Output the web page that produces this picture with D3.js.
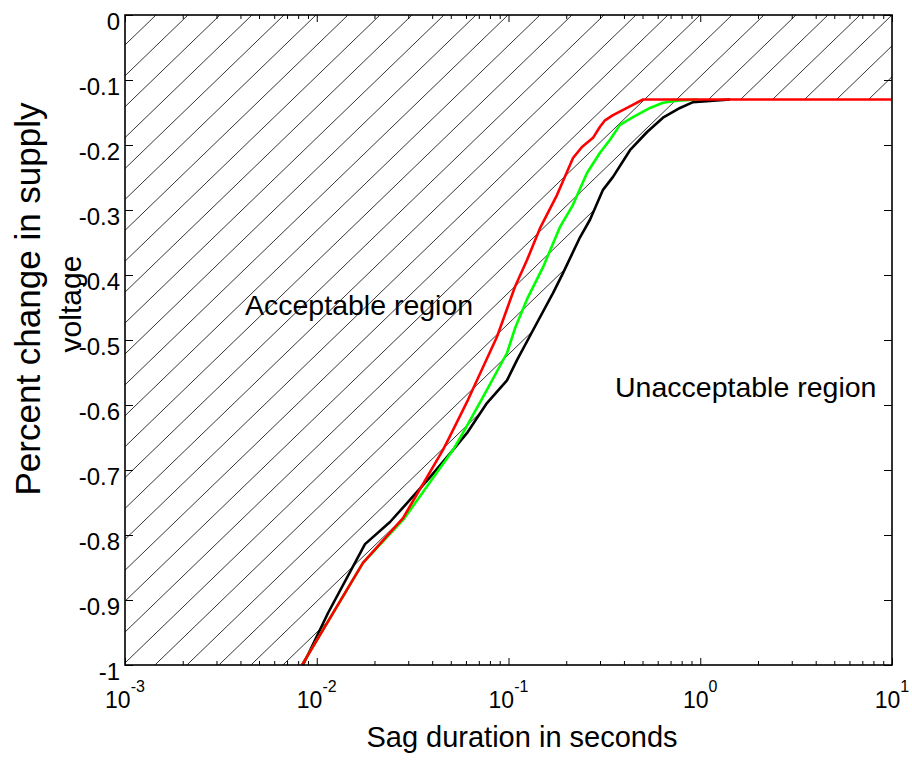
<!DOCTYPE html>
<html>
<head>
<meta charset="utf-8">
<script src="https://cdn.jsdelivr.net/npm/d3@7"></script>
<style>
  body { margin: 0; background: #fff; }
  text { font-family: Arial, "Liberation Sans", sans-serif; fill: #000; }
</style>
</head>
<body>
<svg id="chart" width="912" height="762"></svg>
<script>
// Sag duration (s) and voltage change for the three curves
const blackDur  = [0.00848, 0.01145, 0.01785, 0.0241, 0.0306, 0.0390, 0.0514, 0.0608, 0.0772, 0.0982, 0.1107, 0.1342, 0.1706, 0.1924, 0.2360, 0.266, 0.311, 0.3508, 0.430, 0.528, 0.639, 0.784, 0.917, 1.43];
const blackVolt = [-1.0, -0.920, -0.814, -0.780, -0.746, -0.711, -0.669, -0.643, -0.597, -0.562, -0.531, -0.485, -0.428, -0.397, -0.342, -0.315, -0.269, -0.249, -0.208, -0.180, -0.158, -0.143, -0.134, -0.13];

const greenDur  = [0.00838, 0.01742, 0.0285, 0.0514, 0.0579, 0.0736, 0.0982, 0.1081, 0.1264, 0.1514, 0.1856, 0.2170, 0.2566, 0.300, 0.3382, 0.3815, 0.4459, 0.547, 0.639, 0.756, 0.962];
const greenVolt = [-1.0, -0.843, -0.775, -0.669, -0.643, -0.588, -0.520, -0.482, -0.434, -0.388, -0.326, -0.292, -0.243, -0.212, -0.192, -0.169, -0.157, -0.143, -0.135, -0.132, -0.13];

const redDur  = [0.00838, 0.01742, 0.02818, 0.04553, 0.04835, 0.0615, 0.0871, 0.1081, 0.1249, 0.1460, 0.1790, 0.2170, 0.2416, 0.2759, 0.300, 0.3187, 0.3508, 0.415, 0.503, 10];
const redVolt = [-1.0, -0.843, -0.774, -0.669, -0.654, -0.592, -0.495, -0.418, -0.377, -0.328, -0.277, -0.220, -0.203, -0.189, -0.172, -0.162, -0.154, -0.143, -0.13, -0.13];

// Axis ticks
const xTickValues = [1e-3, 1e-2, 1e-1, 1, 10];
const xTickExponents = ["-3", "-2", "-1", "0", "1"];
const yTickValues = [0, -0.1, -0.2, -0.3, -0.4, -0.5, -0.6, -0.7, -0.8, -0.9, -1];
const yTickLabels = ["0", "-0.1", "-0.2", "-0.3", "-0.4", "-0.5", "-0.6", "-0.7", "-0.8", "-0.9", "-1"];

const series = [
    { dur: blackDur, volt: blackVolt, colour: "#000000" },
    { dur: greenDur, volt: greenVolt, colour: "#00ff00" },
    { dur: redDur, volt: redVolt, colour: "#ff0000" }
];

const svg = d3.select("#chart");
const plotLeft = 125, plotRight = 892, plotTop = 15, plotBottom = 665;

const x = d3.scaleLog().domain([1e-3, 10]).range([plotLeft, plotRight]);
const y = d3.scaleLinear().domain([-1, 0]).range([plotBottom, plotTop]);

// minor ticks 2..9 in each decade
var minorTicks = [];
xTickValues.slice(0, -1).forEach(function(d) {
    for (var k = 2; k <= 9; k++) minorTicks.push(d * k);
});

const line = d3.line()
    .x(function(d) { return x(d[0]); })
    .y(function(d) { return y(d[1]); });

// clip region for the hatching: the area above/left of each curve
var clip = svg.append("defs").append("clipPath").attr("id", "hatch-clip");
series.forEach(function(s) {
    var pts = [[1e-3, -1]];
    s.dur.forEach(function(d, i) { pts.push([d, s.volt[i]]); });
    pts.push([s.dur[s.dur.length - 1], 0]);
    pts.push([1e-3, 0]);
    clip.append("path").attr("d", line(pts) + "Z");
});

// hatch lines
var angle = 44 * Math.PI / 180;
var gap = 32;
var hatch = svg.append("g").attr("clip-path", "url(#hatch-clip)");
d3.range(-30, 45).forEach(function(k) {
    var cx = 156 + k * gap, L = 1400;
    hatch.append("line")
        .attr("x1", cx - L * Math.cos(angle))
        .attr("y1", plotTop + L * Math.sin(angle))
        .attr("x2", cx + L * Math.cos(angle))
        .attr("y2", plotTop - L * Math.sin(angle))
        .attr("stroke", "#000")
        .attr("stroke-width", 0.8);
});

// curves
series.forEach(function(s) {
    var pts = s.dur.map(function(d, i) { return [d, s.volt[i]]; });
    svg.append("path")
        .attr("d", line(pts))
        .attr("fill", "none")
        .attr("stroke", s.colour)
        .attr("stroke-width", 2.6)
        .attr("stroke-linejoin", "round");
});

// axes (ticks pointing inward)
function clean(g) {
    g.select(".domain").remove();
    g.selectAll(".tick line").attr("stroke", "#000").attr("stroke-width", 1);
}
svg.append("g").attr("transform", "translate(0," + plotBottom + ")")
    .call(d3.axisBottom(x).tickValues(xTickValues).tickSize(-7).tickFormat(""))
    .call(clean);
svg.append("g").attr("transform", "translate(0," + plotBottom + ")")
    .call(d3.axisBottom(x).tickValues(minorTicks).tickSize(-4).tickFormat(""))
    .call(clean);
svg.append("g").attr("transform", "translate(0," + plotTop + ")")
    .call(d3.axisTop(x).tickValues(xTickValues).tickSize(-7).tickFormat(""))
    .call(clean);
svg.append("g").attr("transform", "translate(0," + plotTop + ")")
    .call(d3.axisTop(x).tickValues(minorTicks).tickSize(-4).tickFormat(""))
    .call(clean);
svg.append("g").attr("transform", "translate(" + plotRight + ",0)")
    .call(d3.axisRight(y).tickValues(yTickValues).tickSize(-8).tickFormat(""))
    .call(clean);

var yAxis = svg.append("g").attr("transform", "translate(" + plotLeft + ",0)")
    .call(d3.axisLeft(y).tickValues(yTickValues).tickSize(-8).tickPadding(5)
        .tickFormat(function(d, i) { return yTickLabels[i]; }))
    .call(clean);
yAxis.attr("font-family", null).attr("font-size", null);
yAxis.selectAll(".tick text")
    .attr("font-size", 24)
    .attr("dy", "0.62em");

// x tick labels with superscript exponents
var xLabels = svg.append("g").selectAll("text")
    .data(xTickValues)
    .enter().append("text")
    .attr("x", function(d) { return x(d); })
    .attr("y", 708)
    .attr("text-anchor", "middle")
    .attr("font-size", 23);
xLabels.append("tspan").text("10");
xLabels.append("tspan")
    .attr("font-size", 16)
    .attr("dy", -16)
    .text(function(d, i) { return xTickExponents[i]; });

// frame
svg.append("rect")
    .attr("x", plotLeft).attr("y", plotTop)
    .attr("width", plotRight - plotLeft).attr("height", plotBottom - plotTop)
    .attr("fill", "none")
    .attr("stroke", "#000")
    .attr("stroke-width", 1.6);

// region labels
svg.append("text").attr("x", 245).attr("y", 315).attr("font-size", 28.5).text("Acceptable region");
svg.append("text").attr("x", 615).attr("y", 397).attr("font-size", 28.5).text("Unacceptable region");

// axis titles
svg.append("text")
    .attr("x", 522).attr("y", 747)
    .attr("text-anchor", "middle")
    .attr("font-size", 29)
    .text("Sag duration in seconds");
svg.append("text")
    .attr("transform", "translate(40,299) rotate(-90)")
    .attr("text-anchor", "middle")
    .attr("font-size", 35)
    .text("Percent change in supply");
svg.append("text")
    .attr("transform", "translate(81,304) rotate(-90)")
    .attr("text-anchor", "middle")
    .attr("font-size", 30)
    .text("voltage");
</script>
</body>
</html>
